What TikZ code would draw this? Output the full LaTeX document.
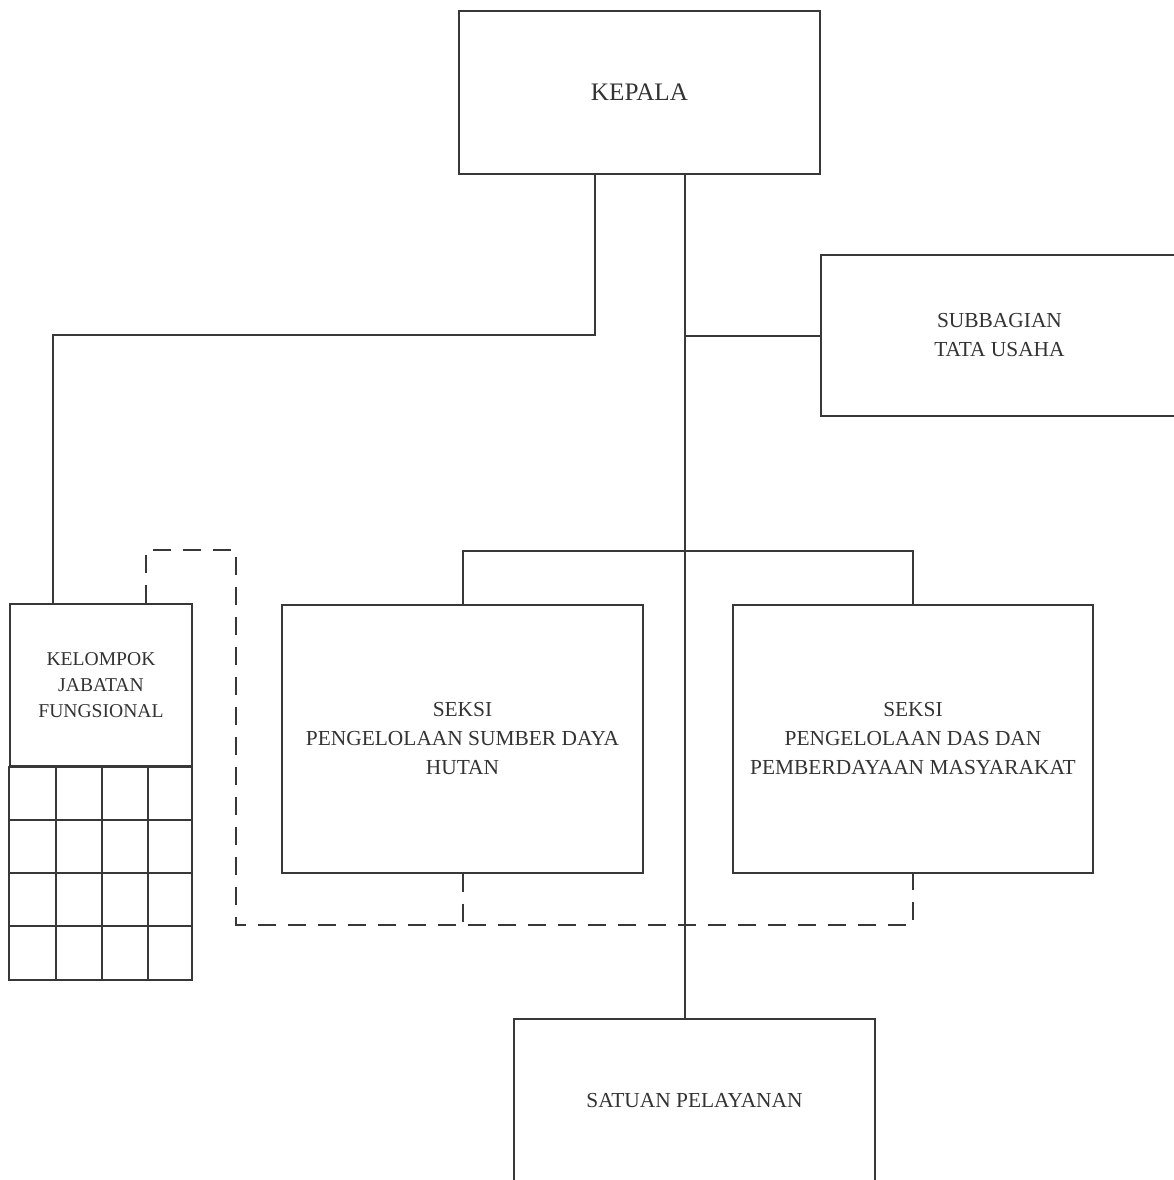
\documentclass[tikz,border=0pt]{standalone}
\usepackage{fontspec}
\setmainfont{Liberation Serif}
\begin{document}
\begin{tikzpicture}[x=0.5pt,y=-0.5pt,
  line width=1pt,
  ink/.style={draw=black!78},
  unit/.style={ink, rectangle, inner sep=0pt, align=center, text=black!80,
    font=\fontsize{10.7}{14.5}\selectfont},
  dashline/.style={ink, dash pattern=on 9pt off 6pt},
  link/.style={ink}]
\useasboundingbox (0,0) rectangle (1174,1180);
\clip (0,0) rectangle (1174,1180);
\fill[white] (0,0) rectangle (1174,1180);

% units
\node[unit, minimum width=180.5pt, minimum height=81.5pt,
  font=\fontsize{12.6}{15}\selectfont] (kepala) at (639.5,92.5) {KEPALA};
\node[unit, minimum width=178.5pt, minimum height=80.5pt] (tu) at (999.5,335.5)
  {SUBBAGIAN\\TATA USAHA};
\node[unit, minimum width=91pt, minimum height=81pt,
  font=\fontsize{9.8}{13.2}\selectfont] (kjf) at (101,685)
  {KELOMPOK\\JABATAN\\FUNGSIONAL};
\node[unit, minimum width=180.5pt, minimum height=134pt] (sdh) at (462.5,738.5)
  {SEKSI\\PENGELOLAAN SUMBER DAYA\\HUTAN};
\node[unit, minimum width=180pt, minimum height=134pt] (das) at (913,738.5)
  {SEKSI\\PENGELOLAAN DAS DAN\\PEMBERDAYAAN MASYARAKAT};
\node[unit, minimum width=180.5pt, minimum height=82pt] (sp) at (694.5,1101)
  {SATUAN PELAYANAN};

% grid of functional posts under the group header
\draw[ink] (kjf.south west) rectangle (192,980);
\foreach \xx in {56,102,148} \draw[ink] (\xx,766) -- (\xx,980);
\foreach \yy in {820,873,926} \draw[ink] (10,\yy) -- (192,\yy);

% solid lines of command
\coordinate (spine) at (685,551);
\coordinate (lb) at (595,335);
\coordinate (lc) at (53,335);
\draw[link] (kepala.south -| spine) -- (sp.north -| spine);
\draw[link] (kepala.south -| lb) -- (lb) -- (lc) -- (kjf.north -| lc);
\draw[link] (spine |- tu.west) -- (tu.west);
\draw[link] (sdh.north) -- (sdh.north |- spine) -| (das.north);

% dashed lines of coordination
\coordinate (da) at (146,550);
\coordinate (db) at (236,550);
\coordinate (dc) at (236,925);
\draw[dashline] (kjf.north -| da) -- (da) -- (db) -- (dc) -| (das.south);
\draw[dashline] (sdh.south) -- (sdh.south |- dc);
\end{tikzpicture}
\end{document}
